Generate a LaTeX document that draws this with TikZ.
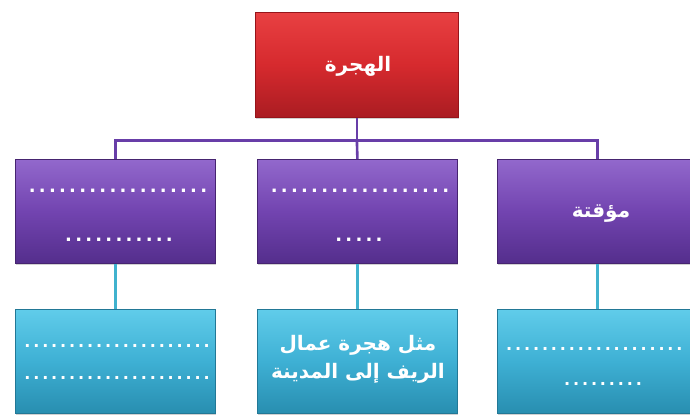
\documentclass[tikz,border=0pt]{standalone}
\usepackage{fontspec}
\newfontfamily\arabicfont[Script=Arabic]{DejaVu Sans}
\newfontfamily\pdotfont[LetterSpace=18]{DejaVu Sans}
\newfontfamily\cdotfont[LetterSpace=18]{DejaVu Sans}
\TeXXeTstate=1
\begin{document}
\begin{tikzpicture}[x=1pt,y=-1pt,
  boxbase/.style={rectangle,minimum width=200pt,anchor=north west,inner sep=0pt,line width=0.8pt},
  redbox/.style={boxbase,minimum width=203pt,minimum height=105pt,
     top color={rgb,255:red,232;green,64;blue,66},bottom color={rgb,255:red,170;green,28;blue,34},
     middle color={rgb,255:red,214;green,42;blue,46},draw={rgb,255:red,150;green,20;blue,26}},
  purplebox/.style={boxbase,minimum height=104pt,
     top color={rgb,255:red,146;green,104;blue,204},bottom color={rgb,255:red,84;green,46;blue,140},
     middle color={rgb,255:red,114;green,68;blue,176},draw={rgb,255:red,70;green,36;blue,112}},
  cyanbox/.style={boxbase,minimum height=104pt,
     top color={rgb,255:red,96;green,204;blue,234},bottom color={rgb,255:red,40;green,142;blue,176},
     middle color={rgb,255:red,62;green,176;blue,212},draw={rgb,255:red,34;green,120;blue,150}},
  shadowbox/.style={fill=black,opacity=0.18,rectangle,minimum width=200pt,minimum height=104pt,anchor=north west,inner sep=0pt},
  purpleline/.style={draw={rgb,255:red,104;green,62;blue,168},line width=2.6pt},
  cyanline/.style={draw={rgb,255:red,64;green,178;blue,206},line width=2.6pt},
  artext/.style={text=white,font=\arabicfont\bfseries\fontsize{20}{28}\selectfont,align=center,inner sep=0pt},
  pdots/.style={text=white,font=\pdotfont\bfseries\fontsize{18}{18}\selectfont,inner sep=0pt},
  cdots/.style={text=white,font=\cdotfont\bfseries\fontsize{16}{16}\selectfont,inner sep=0pt}
]
\useasboundingbox (0,0) rectangle (690,419);
\fill[white] (0,0) rectangle (690,419);
\clip (0,0) rectangle (690,419);
% shadows
\node[shadowbox,minimum width=203pt,minimum height=105pt] (s0) at (256,14) {};
\node[shadowbox] (s1) at (16,161) {};
\node[shadowbox] (s2) at (258,161) {};
\node[shadowbox] (s3) at (498,161) {};
\node[shadowbox] (s4) at (16,311) {};
\node[shadowbox] (s5) at (258,311) {};
\node[shadowbox] (s6) at (498,311) {};
% boxes
\node[redbox] (top) at (255,12) {};
\node[purplebox] (p1) at (15,159) {};
\node[purplebox] (p2) at (257,159) {};
\node[purplebox] (p3) at (497,159) {};
\node[cyanbox] (c1) at (15,309) {};
\node[cyanbox] (c2) at (257,309) {};
\node[cyanbox] (c3) at (497,309) {};
% connectors
\path (top.south) ++(0,23) coordinate (bus);
\draw[purpleline] (top.south) -- (bus);
\draw[purpleline] (p1.north) |- (bus);
\draw[purpleline] (p3.north) |- (bus);
\draw[purpleline] (bus) -- (p2.north);
\draw[cyanline] (p1.south) -- (c1.north);
\draw[cyanline] (p2.south) -- (c2.north);
\draw[cyanline] (p3.south) -- (c3.north);
% texts
\node[artext] (t0) at (358,66) {\beginR الهجرة\endR};
\node[pdots] (d1a) at (118,191) {..................};
\node[pdots] (d1b) at (119,240) {...........};
\node[pdots] (d2a) at (360,191) {..................};
\node[pdots] (d2b) at (359,240) {.....};
\node[artext] (t3) at (601,214) {\beginR مؤقتة\endR};
\node[cdots] (d4a) at (117,346) {.....................};
\node[cdots] (d4b) at (117,378) {.....................};
\node[artext] (t5a) at (358,345) {\beginR مثل هجرة عمال\endR};
\node[artext] (t5b) at (358,373) {\beginR الريف إلى المدينة\endR};
\node[cdots,anchor=west] (d6a) at (506,349) {....................};
\node[cdots] (d6b) at (603,384) {.........};
\end{tikzpicture}
\end{document}
